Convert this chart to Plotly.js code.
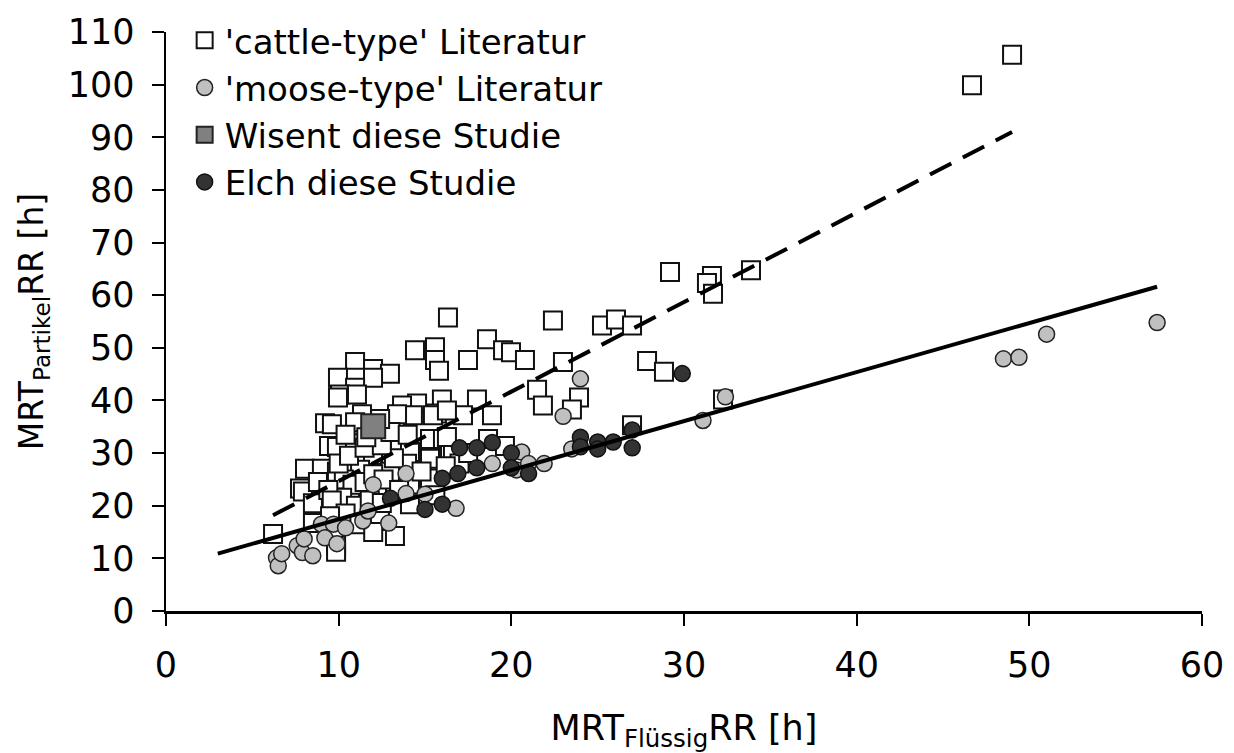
<!DOCTYPE html>
<html>
<head>
<meta charset="utf-8">
<script src="https://cdn.plot.ly/plotly-3.0.1.min.js"></script>
<style>html,body{margin:0;padding:0;background:#fff;}#chart{width:1234px;height:753px;}</style>
</head>
<body>
<div id="chart"></div>
<script>
// Series names
const seriesNames = ["'cattle-type' Literatur", "'moose-type' Literatur", "Wisent diese Studie", "Elch diese Studie"];

// 'cattle-type' Literatur (open squares)
const cattleX = [46.68,49.0,29.19,31.62,31.33,31.68,33.88,16.33,22.41,25.25,26.06,26.99,14.42,15.58,15.58,15.81,17.49,18.59,19.52,19.98,20.79,22.99,27.86,28.84,10.95,11.99,12.97,10.95,9.96,11.99,10.95,10.08,11.06,14.54,15.98,15.69,18.01,17.20,18.88,21.49,21.83,23.92,23.51,32.26,26.99,13.67,14.30,15.46,16.27,13.38,11.35,11.35,9.21,9.61,10.95,9.96,9.44,9.90,13.55,14.13,15.29,16.04,16.45,15.29,13.96,12.80,11.99,18.65,19.63,16.62,16.27,8.05,9.03,9.90,11.24,12.97,15.29,14.13,12.22,10.66,7.76,7.93,8.51,9.90,14.13,8.51,6.20,9.85,9.85,13.26,12.39,
  10.3,10.8,11.5,12.0,12.6,10.2,11.0,11.8,12.5,13.5,13.2,14.8,10.0,10.6,11.5,12.5,13.0,14.0,8.8,9.4,9.6,10.4,11.2,9.5,12.0,11.6,12.4,10.4,17.0,17.5,15.6,16.2];
const cattleY = [99.87,105.69,64.39,63.64,62.32,60.26,64.76,55.75,55.19,54.25,55.38,54.25,49.56,50.12,47.68,45.62,47.68,51.62,49.56,49.18,47.68,47.31,47.49,45.43,47.31,45.99,45.05,44.30,44.30,44.30,42.43,41.11,41.11,39.42,40.17,37.54,40.17,37.17,37.17,42.05,39.05,40.55,38.30,40.17,35.29,39.05,37.17,37.17,38.11,37.36,37.36,35.29,35.67,35.48,35.86,40.55,31.35,31.16,32.10,30.22,32.66,32.66,30.22,28.91,27.97,28.72,29.66,32.66,31.35,30.60,33.04,27.03,27.03,26.47,26.84,26.47,25.15,24.03,23.28,22.71,23.28,22.71,20.46,20.27,20.27,16.71,14.64,12.39,11.26,14.27,17.08,
  25.0,24.0,24.5,26.0,25.0,21.5,20.0,21.0,20.5,23.0,29.0,26.5,28.0,29.5,31.0,31.5,34.0,33.5,24.5,23.0,21.0,18.5,16.5,18.0,15.0,33.0,36.5,33.5,28.0,30.0,22.0,27.5];

// 'moose-type' Literatur (light grey circles)
const mooseX = [6.4,6.5,6.7,7.6,7.9,8.5,8.0,9.0,9.7,9.2,9.9,10.4,11.4,11.7,12.0,12.9,13.9,13.9,15.0,16.8,18.9,20.6,20.3,21.0,21.9,23.5,23.0,24.0,31.1,32.4,48.5,49.4,51.0,57.4];
const mooseY = [10.1,8.6,10.9,12.4,11.1,10.5,13.7,16.5,16.5,13.9,12.8,15.8,17.1,19.0,24.0,16.7,26.1,22.3,22.2,19.5,28.0,30.2,26.8,28.0,28.0,30.8,37.0,44.1,36.2,40.7,47.9,48.2,52.6,54.8];

// Wisent diese Studie (grey square)
const wisentX = [12.0];
const wisentY = [35.1];

// Elch diese Studie (dark circles)
const elchX = [13.0,15.0,16.0,16.0,16.9,17.0,18.0,18.0,18.9,20.0,20.0,21.0,24.0,24.0,25.0,25.0,25.9,27.0,27.0,29.9];
const elchY = [21.4,19.3,20.3,25.2,26.1,31.0,31.0,27.2,32.0,30.0,27.2,26.1,33.0,31.2,32.1,30.8,32.1,34.4,31.0,45.1];

// Regression lines (end points)
const cattleLineX = [6.2, 49.0];
const cattleLineY = [18.2, 91.0];
const mooseLineX = [3.0, 57.4];
const mooseLineY = [10.9, 61.6];

const FONT = "DejaVu Sans, Verdana, sans-serif";
const FS = 35;

const traces = [
  {x: cattleX, y: cattleY, type: 'scatter', mode: 'markers', name: seriesNames[0], legendgroup: 'a',
   marker: {symbol: 'square', size: 18, color: '#ffffff', line: {color: '#111111', width: 2}}},
  {x: mooseX, y: mooseY, type: 'scatter', mode: 'markers', name: seriesNames[1], legendgroup: 'b',
   marker: {symbol: 'circle', size: 16, color: '#c0c0c0', line: {color: '#222222', width: 1.5}}},
  {x: wisentX, y: wisentY, type: 'scatter', mode: 'markers', name: seriesNames[2], legendgroup: 'c',
   marker: {symbol: 'square', size: 24, color: '#808080', line: {color: '#222222', width: 2}}},
  {x: elchX, y: elchY, type: 'scatter', mode: 'markers', name: seriesNames[3], legendgroup: 'd',
   marker: {symbol: 'circle', size: 16, color: '#333333', line: {color: '#111111', width: 1.5}}},
  {x: cattleLineX, y: cattleLineY, type: 'scatter', mode: 'lines', showlegend: false,
   line: {color: '#000000', width: 4, dash: '24px,13px'}},
  {x: mooseLineX, y: mooseLineY, type: 'scatter', mode: 'lines', showlegend: false,
   line: {color: '#000000', width: 4}}
];

const layout = {
  width: 1234, height: 753,
  margin: {l: 166, r: 32, t: 25, b: 142},
  paper_bgcolor: '#ffffff', plot_bgcolor: '#ffffff',
  font: {family: FONT, size: FS, color: '#000000'},
  showlegend: true,
  legend: {x: 0.018, y: 1.035, xanchor: 'left', yanchor: 'top', bgcolor: 'rgba(0,0,0,0)',
           font: {family: FONT, size: 34, color: '#000'}, traceorder: 'normal', tracegroupgap: 0, itemsizing: 'trace'},
  xaxis: {range: [0, 60], dtick: 10, tick0: 0, showgrid: false, zeroline: false,
          showline: true, linecolor: '#000', linewidth: 2.5, ticks: 'outside', ticklen: 12, tickwidth: 2, tickcolor: '#000',
          ticklabelstandoff: 9,
          tickfont: {family: FONT, size: FS, color: '#000'},
          title: {text: 'MRT<sub>Flüssig</sub>RR [h]', font: {family: FONT, size: FS, color: '#000'}, standoff: 41}},
  yaxis: {range: [0, 110], dtick: 10, tick0: 0, showgrid: false, zeroline: false,
          showline: true, linecolor: '#000', linewidth: 2.5, ticks: 'outside', ticklen: 12, tickwidth: 2, tickcolor: '#000',
          ticklabelstandoff: 10,
          tickfont: {family: FONT, size: FS, color: '#000'},
          title: {text: 'MRT<sub>Partikel</sub>RR [h]', font: {family: FONT, size: 33, color: '#000'}, standoff: 14}}
};

Plotly.newPlot('chart', traces, layout, {displayModeBar: false, staticPlot: true});
</script>
</body>
</html>
